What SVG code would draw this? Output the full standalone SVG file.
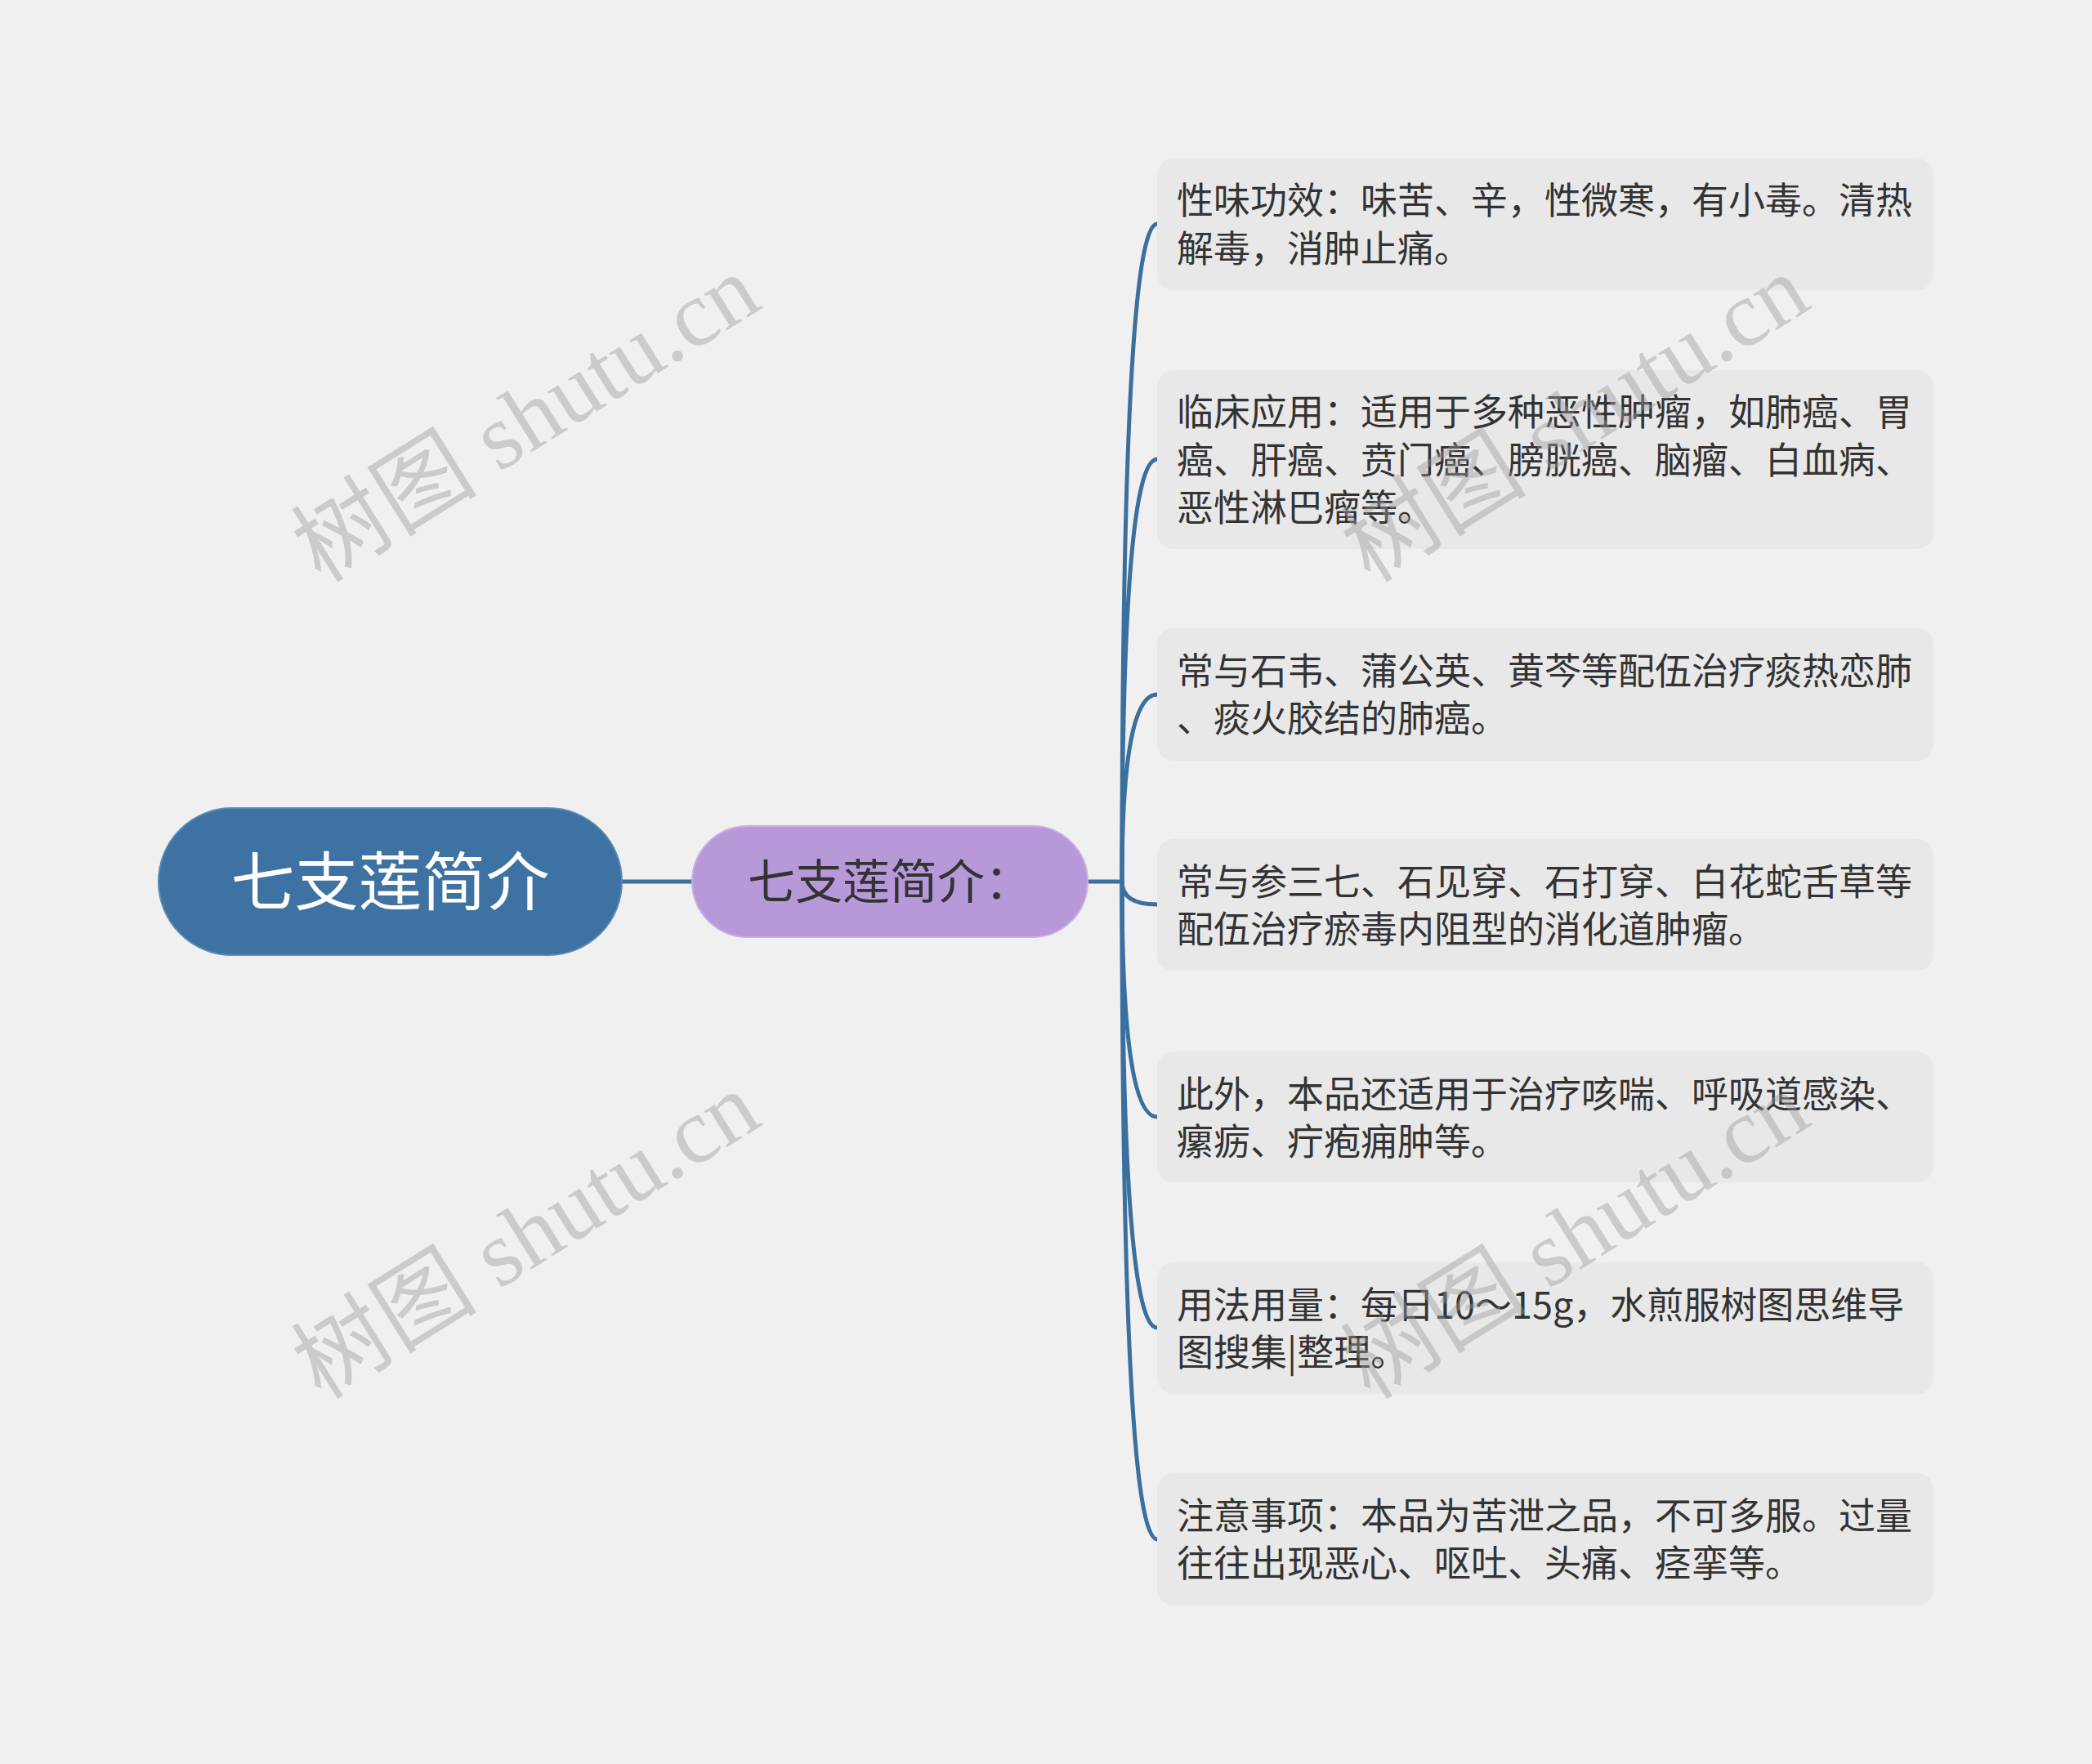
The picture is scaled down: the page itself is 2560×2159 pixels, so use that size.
<svg xmlns="http://www.w3.org/2000/svg" width="2560" height="2159" viewBox="0 0 2560 2159">
<style>
.leaf{fill:#e8e8e8;}
.lt{font-family:"Noto Sans CJK SC","Noto Sans",sans-serif;font-size:45px;fill:#333333;}
.conn{fill:none;stroke:#3b6f9e;stroke-width:5;stroke-linecap:round;}
.wm{font-family:"Liberation Serif","Noto Sans CJK SC",serif;font-size:114px;fill:#9a9a9a;opacity:0.42;}
</style>
<rect x="0" y="0" width="2560" height="2159" fill="#f0f0f0"/>
<g id="connectors">
<path class="conn" d="M761 1079 L847 1079"/>
<path class="conn" d="M1331 1079 L1373 1079"/>
<path class="conn" d="M1373 1079 Q1373 274 1416 274"/>
<path class="conn" d="M1373 1079 Q1373 562 1416 562"/>
<path class="conn" d="M1373 1079 Q1373 850 1416 850"/>
<path class="conn" d="M1373 1079 Q1373 1107 1416 1107"/>
<path class="conn" d="M1373 1079 Q1373 1367 1416 1367"/>
<path class="conn" d="M1373 1079 Q1373 1625 1416 1625"/>
<path class="conn" d="M1373 1079 Q1373 1884 1416 1884"/>
</g>
<g id="root">
<rect x="194" y="989" width="567" height="180" rx="90" fill="#3d72a2" stroke="#5a8ab5" stroke-width="2"/>
<text x="477.5" y="1108" text-anchor="middle" font-family="Noto Sans CJK SC, sans-serif" font-size="78" fill="#ffffff">七支莲简介</text>
</g>
<g id="sub">
<rect x="847" y="1011" width="484" height="136" rx="68" fill="#b798d9" stroke="#c8b0e3" stroke-width="2"/>
<text x="1089" y="1100" text-anchor="middle" font-family="Noto Sans CJK SC, sans-serif" font-size="58" fill="#333333">七支莲简介：</text>
</g>
<g id="leaf1">
<rect class="leaf" x="1416" y="194" width="950" height="161" rx="20"/>
<text class="lt" x="1440" y="262">性味功效：味苦、辛，性微寒，有小毒。清热</text>
<text class="lt" x="1440" y="320.5">解毒，消肿止痛。</text>
</g>
<g id="leaf2">
<rect class="leaf" x="1416" y="453" width="950" height="219" rx="20"/>
<text class="lt" x="1440" y="521">临床应用：适用于多种恶性肿瘤，如肺癌、胃</text>
<text class="lt" x="1440" y="579.5">癌、肝癌、贲门癌、膀胱癌、脑瘤、白血病、</text>
<text class="lt" x="1440" y="638">恶性淋巴瘤等。</text>
</g>
<g id="leaf3">
<rect class="leaf" x="1416" y="769" width="950" height="162" rx="20"/>
<text class="lt" x="1440" y="837.5">常与石韦、蒲公英、黄芩等配伍治疗痰热恋肺</text>
<text class="lt" x="1440" y="896">、痰火胶结的肺癌。</text>
</g>
<g id="leaf4">
<rect class="leaf" x="1416" y="1027" width="950" height="161" rx="20"/>
<text class="lt" x="1440" y="1095.5">常与参三七、石见穿、石打穿、白花蛇舌草等</text>
<text class="lt" x="1440" y="1154">配伍治疗瘀毒内阻型的消化道肿瘤。</text>
</g>
<g id="leaf5">
<rect class="leaf" x="1416" y="1287" width="950" height="160" rx="20"/>
<text class="lt" x="1440" y="1355.5">此外，本品还适用于治疗咳喘、呼吸道感染、</text>
<text class="lt" x="1440" y="1414">瘰疬、疔疱痈肿等。</text>
</g>
<g id="leaf6">
<rect class="leaf" x="1416" y="1545" width="950" height="161" rx="20"/>
<text class="lt" x="1440" y="1613.5">用法用量：每日10～15g，水煎服树图思维导</text>
<text class="lt" x="1440" y="1672">图搜集|整理。</text>
</g>
<g id="leaf7">
<rect class="leaf" x="1416" y="1803" width="950" height="162" rx="20"/>
<text class="lt" x="1440" y="1871.5">注意事项：本品为苦泄之品，不可多服。过量</text>
<text class="lt" x="1440" y="1930">往往出现恶心、呕吐、头痛、痉挛等。</text>
</g>
<g id="watermarks">
<text class="wm" text-anchor="middle" transform="translate(664 545) rotate(-32)">树图 shutu.cn</text>
<text class="wm" text-anchor="middle" transform="translate(664 1545) rotate(-32)">树图 shutu.cn</text>
<text class="wm" text-anchor="middle" transform="translate(1948 545) rotate(-32)">树图 shutu.cn</text>
<text class="wm" text-anchor="middle" transform="translate(1948 1545) rotate(-32)">树图 shutu.cn</text>
</g>
</svg>
